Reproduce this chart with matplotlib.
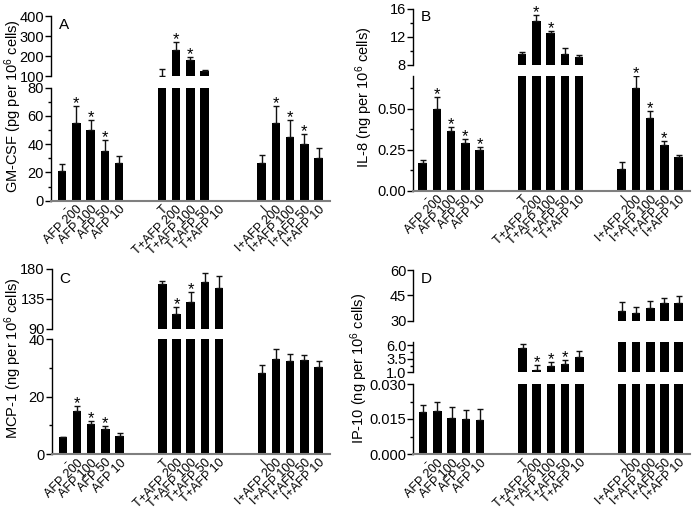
import numpy as np
import matplotlib
matplotlib.use("Agg")
import matplotlib.pyplot as plt

plt.rcParams["font.family"] = ["Liberation Sans", "DejaVu Sans"]
plt.rcParams["mathtext.default"] = "regular"
plt.rcParams["font.size"] = 10

# Categories (three groups of five)
labels = ["-", "AFP 200", "AFP 100", "AFP 50", "AFP 10",
          "T", "T+AFP 200", "T+AFP 100", "T+AFP 50", "T+AFP 10",
          "I", "I+AFP 200", "I+AFP 100", "I+AFP 50", "I+AFP 10"]
group_size = 5

# Panel A: GM-CSF (pg per 10^6 cells)
gmcsf = [21, 55, 50, 35, 27, 102, 230, 180, 123, np.nan, 26.5, 55, 45, 40, 30]
gmcsf_err = [5, 12, 7, 8, 5, 32, 40, 17, 9, np.nan, 6, 12, 12, 7, 7]
gmcsf_stars = [1, 2, 3, 6, 7, 11, 12, 13]

# Panel B: IL-8 (ng per 10^6 cells)
il8 = [0.17, 0.50, 0.365, 0.29, 0.25, 9.6, 14.3, 12.6, 9.6, 9.2, 0.135, 0.625, 0.445, 0.28, 0.205]
il8_err = [0.015, 0.07, 0.025, 0.025, 0.015, 0.25, 0.9, 0.3, 0.8, 0.2, 0.04, 0.075, 0.04, 0.025, 0.015]
il8_stars = [1, 2, 3, 4, 6, 7, 11, 12, 13]

# Panel C: MCP-1 (ng per 10^6 cells)
mcp1 = [5.8, 14.9, 10.4, 8.8, 6.3, 158, 112, 131, 160, 151, 28.1, 33.0, 32.5, 32.7, 30.3]
mcp1_err = [0.3, 1.9, 1.0, 1.0, 0.9, 4, 11, 14, 14, 19, 2.9, 3.5, 2.2, 1.7, 2.0]
mcp1_stars = [1, 2, 3, 6, 7]

# Panel D: IP-10 (ng per 10^6 cells)
ip10 = [0.0178, 0.0185, 0.0155, 0.015, 0.0145, 5.5, 1.4, 2.2, 2.5, 3.9, 35.7, 34.7, 37.3, 40.3, 40.3]
ip10_err = [0.003, 0.004, 0.0048, 0.004, 0.005, 0.85, 0.9, 0.75, 0.7, 1.0, 5.2, 3.4, 4.5, 3.3, 4.1]
ip10_stars = [6, 7, 8]

W, H = 693, 509
fig = plt.figure(figsize=(W / 100, H / 100), dpi=100)

xpos = np.array([(i // group_size) * 7 + i % group_size for i in range(len(labels))])


def px_rect(left, right, top, bottom):
    return [left / W, 1 - bottom / H, (right - left) / W, (bottom - top) / H]


def draw_panel(vals, errs, stars, letter, ylabel, left, right, xlim, segs, ylab_xy, letter_xy):
    vals = np.array(vals, dtype=float)
    errs = np.array(errs, dtype=float)
    ok = ~np.isnan(vals)
    axes = []
    for k, (top, bottom, lo, hi, ticks, ticklabels, minor) in enumerate(segs):
        ax = fig.add_axes(px_rect(left, right, top, bottom))
        ax.bar(xpos[ok], vals[ok], width=0.6, color="black")
        ax.errorbar(xpos[ok], vals[ok], yerr=[np.zeros(ok.sum()), errs[ok]], fmt="none",
                    ecolor="#111111", elinewidth=1, capsize=2.5, capthick=1)
        ax.set_xlim(xlim)
        ax.set_ylim(lo, hi)
        ax.set_yticks(ticks)
        ax.set_yticklabels(ticklabels)
        ax.set_yticks(minor, minor=True)
        ax.tick_params(axis="y", which="major", length=4, width=1, pad=1, labelsize=10.5)
        ax.tick_params(axis="y", which="minor", length=2.5, width=1)
        for s in ["top", "right"]:
            ax.spines[s].set_visible(False)
        ax.spines["left"].set_linewidth(1)
        last = k == len(segs) - 1
        if last:
            ax.spines["bottom"].set_color("#7f7f7f")
            ax.spines["bottom"].set_linewidth(1.5)
            ax.set_xticks(xpos)
            ax.set_xticklabels(labels, rotation=45, ha="right", rotation_mode="anchor", fontsize=9)
            ax.tick_params(axis="x", length=0, pad=2)
        else:
            ax.spines["bottom"].set_visible(False)
            ax.set_xticks([])
        ax.patch.set_visible(False)
        axes.append((ax, lo, hi))

    # significance stars go in the highest segment that the error bar reaches
    for i in stars:
        ytop = vals[i] + errs[i]
        target = axes[-1][0]
        for ax, lo, hi in axes:
            if ytop >= lo:
                target = ax
                break
        target.annotate("*", (xpos[i], ytop), xytext=(0, -1.5), textcoords="offset points",
                        ha="center", va="baseline", fontsize=12, annotation_clip=False)

    fig.text(letter_xy[0] / W, 1 - letter_xy[1] / H, letter, fontsize=11, ha="left", va="center")
    fig.text(ylab_xy[0] / W, 1 - ylab_xy[1] / H, ylabel, rotation=90, ha="center", va="center",
             fontsize=10.5)


draw_panel(gmcsf, gmcsf_err, gmcsf_stars, "A", "GM-CSF (pg per 10$^6$ cells)",
           51, 330, (-0.78, 18.8),
           [(16, 76, 100, 400, [100, 200, 300, 400], ["100", "200", "300", "400"], []),
            (87.7, 200.7, 0, 80, [0, 20, 40, 60, 80], ["0", "20", "40", "60", "80"], [10, 30, 50, 70])],
           (13, 106), (59, 25))

draw_panel(il8, il8_err, il8_stars, "B", "IL-8 (ng per 10$^6$ cells)",
           412.7, 690, (-0.7, 18.8),
           [(9, 65, 8, 16, [8, 12, 16], ["8", "12", "16"], [10, 14]),
            (76, 190.7, 0, 0.70, [0, 0.25, 0.5], ["0.00", "0.25", "0.50"], [0.125, 0.375, 0.625])],
           (364, 97), (421, 17))

draw_panel(mcp1, mcp1_err, mcp1_stars, "C", "MCP-1 (ng per 10$^6$ cells)",
           51.7, 330, (-0.78, 18.8),
           [(269, 329, 90, 180, [90, 135, 180], ["90", "135", "180"], []),
            (339.3, 454, 0, 40, [0, 20, 40], ["0", "20", "40"], [10, 30])],
           (13, 358), (59, 279))

draw_panel(ip10, ip10_err, ip10_stars, "D", "IP-10 (ng per 10$^6$ cells)",
           413.3, 690, (-0.7, 18.8),
           [(270, 320.7, 30, 60, [30, 45, 60], ["30", "45", "60"], []),
            (341.7, 372.3, 1.0, 6.7, [1.0, 3.5, 6.0], ["1.0", "3.5", "6.0"], [2.25, 4.75]),
            (384, 454, 0, 0.030, [0, 0.015, 0.030], ["0.000", "0.015", "0.030"], [0.0075, 0.0225])],
           (359, 368), (421, 279))

fig.savefig("out.png", dpi=100)
